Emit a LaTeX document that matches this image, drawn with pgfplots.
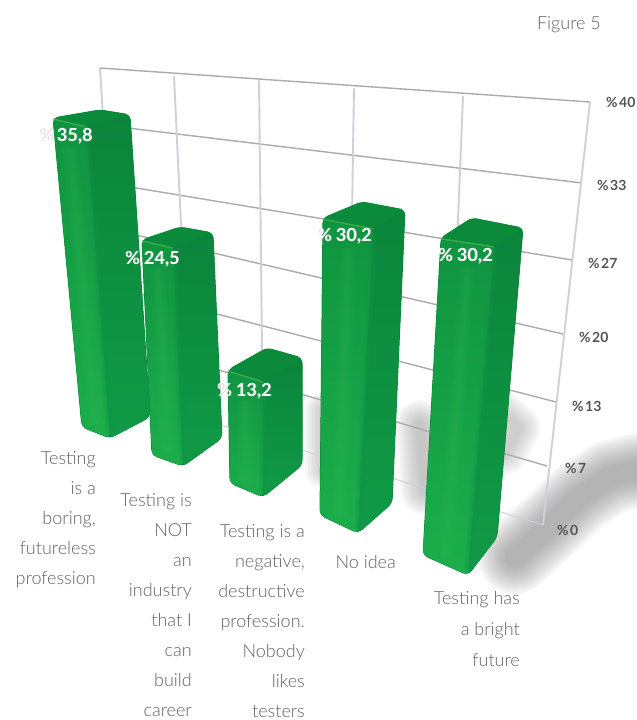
\documentclass[border=0pt]{standalone}
\usepackage{fontspec}
\usepackage{pgfplots}
\usepackage{pgfplotstable}
\pgfplotsset{compat=1.18}
\setmainfont{Lato}
\newfontfamily\thinfont{Lato Light}
\newfontfamily\boldfont{Lato}[UprightFont=*-Bold]

\definecolor{wallh}{HTML}{ABABAB}
\definecolor{wallv}{HTML}{D0D0DA}
\definecolor{caption}{HTML}{626262}
\definecolor{ticktext}{HTML}{555555}
\definecolor{leftTop}{HTML}{0F9440}
\definecolor{leftBot}{HTML}{1CAE4B}
\definecolor{rightTop}{HTML}{0B853B}
\definecolor{rightBot}{HTML}{109A46}
\definecolor{topFace}{HTML}{0C8A3C}
\definecolor{rim}{HTML}{5CC04E}
\definecolor{sheen}{HTML}{3CC05A}
\definecolor{ridge}{HTML}{12934A}
\definecolor{shadowgray}{HTML}{808080}

% one bar per row: the value, then for the left, front, right and back corners
% the floor position and the rise per percentage point
\pgfplotstableread{
val  lx  ly  lux   luy    fx  fy  fux   fuy    rx  ry  rux   ruy    bx  by  bux   buy
35.8 82  427 -0.81 -8.63  110 438 -0.67 -8.72  150 417 -0.56 -8.44  122 406 -0.61 -8.27
24.5 152 455 -0.41 -8.78  183 466 -0.41 -8.94  222 438 -0.37 -8.37  191 427 -0.45 -8.16
13.2 230 483 -0.15 -8.56  263 497 0.00  -8.79  302 465 0.00  -8.11  269 451 -0.15 -7.80
30.2 320 515 0.10  -9.83  358 533 0.50  -10.10 392 503 0.43  -9.70  354 490 0.26  -9.54
30.2 423 555 0.60  -10.50 468 575 0.86  -10.90 497 537 0.86  -10.23 452 517 0.66  -9.90
}\bars

\newcommand\poly[2]{\edef\temp{\noexpand\addplot[#1] coordinates {#2} --cycle;}\temp}
\newcommand\stroke[2]{\edef\temp{\noexpand\addplot[#1] coordinates {#2};}\temp}

% soft shadow: a band stacked from translucent strokes, narrowing towards its spine
% arguments: opacity of a stroke, widest stroke, narrowest stroke, spine
\newcommand\softband[4]{%
  \pgfplotsforeachungrouped \layer in {0,1,...,11}{%
    \pgfmathsetmacro\bandw{#3+(#2-#3)*\layer/11}%
    \stroke{shadowgray,line width=\bandw pt,opacity=#1,line join=round,line cap=round}{#4}}}

\newcommand\getcols[1]{%
  \pgfplotsforeachungrouped \colname in {val,lx,ly,lux,luy,fx,fy,fux,fuy,rx,ry,rux,ruy,bx,by,bux,buy}{%
    \pgfplotstablegetelem{#1}{\colname}\of\bars
    \expandafter\let\csname c\colname\endcsname\pgfplotsretval}}

\newcommand\drawbar[1]{%
  \getcols{#1}%
  \pgfmathsetmacro\Ltx{\clx+\clux*\cval}\pgfmathsetmacro\Lty{\cly+\cluy*\cval}%
  \pgfmathsetmacro\Ftx{\cfx+\cfux*\cval}\pgfmathsetmacro\Fty{\cfy+\cfuy*\cval}%
  \pgfmathsetmacro\Rtx{\crx+\crux*\cval}\pgfmathsetmacro\Rty{\cry+\cruy*\cval}%
  \pgfmathsetmacro\Btx{\cbx+\cbux*\cval}\pgfmathsetmacro\Bty{\cby+\cbuy*\cval}%
  \pgfmathsetmacro\Mbx{.5*\clx+.5*\cfx}\pgfmathsetmacro\Mby{.5*\cly+.5*\cfy-8}%
  \pgfmathsetmacro\Mtx{.5*\Ltx+.5*\Ftx}\pgfmathsetmacro\Mty{.5*\Lty+.5*\Fty+25}%
  \pgfmathsetmacro\Rbx{\cfx}\pgfmathsetmacro\Rby{\cfy-4}%
  \pgfmathsetmacro\Rqx{\Ftx}\pgfmathsetmacro\Rqy{\Fty+3}%
  \pgfmathsetmacro\Lipy{\Lty+1}\pgfmathsetmacro\Fipy{\Fty+1}%
  \poly{draw=rightTop,fill=rightTop,line width=1pt,rounded corners=5pt}
       {(\clx,\cly)(\cfx,\cfy)(\crx,\cry)(\Rtx,\Rty)(\Btx,\Bty)(\Ltx,\Lty)}%
  \poly{draw=none,top color=rightTop,bottom color=rightBot,rounded corners=4pt}
       {(\cfx,\cfy)(\crx,\cry)(\Rtx,\Rty)(\Ftx,\Fty)}%
  \poly{draw=none,top color=leftTop,bottom color=leftBot,rounded corners=4pt}
       {(\clx,\cly)(\cfx,\cfy)(\Ftx,\Fty)(\Ltx,\Lty)}%
  % sheen down the lit face and a softened edge between the two faces
  \stroke{sheen,line width=16pt,opacity=.06}{(\Mbx,\Mby)(\Mtx,\Mty)}%
  \stroke{sheen,line width=11pt,opacity=.07}{(\Mbx,\Mby)(\Mtx,\Mty)}%
  \stroke{sheen,line width=5pt,opacity=.09}{(\Mbx,\Mby)(\Mtx,\Mty)}%
  \stroke{ridge,line width=8pt,opacity=.2}{(\Rbx,\Rby)(\Rqx,\Rqy)}%
  \stroke{ridge,line width=4pt,opacity=.3}{(\Rbx,\Rby)(\Rqx,\Rqy)}%
  \poly{draw=none,fill=topFace,rounded corners=4pt}
       {(\Ltx,\Lty)(\Ftx,\Fty)(\Rtx,\Rty)(\Btx,\Bty)}%
  \stroke{rim,line width=1.4pt,opacity=.55,line cap=round}{(\Ltx,\Lipy)(\Ftx,\Fipy)}%
}

\newcommand\levelline[2]{\addplot[wallh,line width=1.4pt] coordinates {#1#2};}
\newcommand\divider[2]{\addplot[wallv,line width=1.9pt] coordinates {#1#2};}
\newcommand\cat[3]{\node[anchor=base east,inner sep=0pt,text=caption,font=\thinfont\fontsize{18}{19}\selectfont] at (axis cs:#1,#2) {#3};}
\newcommand\ticklab[3]{\node[anchor=base west,inner sep=0pt,text=ticktext,font=\boldfont\fontsize{14}{15}\selectfont] at (axis cs:#1,#2) {\%\hspace{1.5pt}#3};}
\newcommand\valtext[3]{%
  \node[anchor=base west,inner sep=0pt,text=gray!60,opacity=.7,font=\boldfont\fontsize{18}{19}\selectfont] at (axis cs:#1+.7,#2+.7) {#3};
  \node[anchor=base west,inner sep=0pt,text=white,opacity=.95,font=\boldfont\fontsize{18}{19}\selectfont] at (axis cs:#1,#2) {#3};}

\begin{document}
\begin{tikzpicture}
\begin{axis}[
  scale only axis,width=637pt,height=720pt,
  xmin=0,xmax=637,ymin=0,ymax=720,y dir=reverse,
  hide axis,
]
\fill[white] (axis cs:0,0) rectangle (axis cs:637,720);

% shadows thrown to the right of the bars
\softband{.065}{74}{20}{(515,557)(545,530)(580,497)(610,477)(660,465)}
\softband{.035}{46}{8}{(495,408)(518,428)(505,452)}
\softband{.045}{50}{8}{(420,425)(425,490)}
\softband{.03}{36}{6}{(322,410)(322,470)}

% back wall: value lines, then the dividers between categories
\levelline{(100,68)}{(590,102)}
\levelline{(103,125)}{(582,183)}
\levelline{(106,183)}{(572,260)}
\levelline{(110,229)}{(563,334)}
\levelline{(113,287)}{(556,402)}
\levelline{(116,340)}{(547,466)}
\addplot[wallv,line width=1pt] coordinates {(118,393)(543,525)};
\divider{(100,68)}{(120,393)}
\divider{(174,76)}{(190,415)}
\divider{(259,80)}{(263,440)}
\divider{(354,88)}{(348,470)}
\divider{(463,96)}{(447,495)}
\divider{(590,102)}{(543,525)}

\drawbar{0}
\drawbar{1}
\drawbar{2}
\drawbar{3}
\drawbar{4}

\valtext{38}{141}{\%\hspace{4pt}35,8}
\valtext{125}{264}{\%\hspace{4pt}24,5}
\valtext{217}{396}{\%\hspace{4pt}13,2}
\valtext{317}{241}{\%\hspace{4pt}30,2}
\valtext{438}{261}{\%\hspace{4pt}30,2}

\ticklab{606}{107}{40}
\ticklab{597}{190}{33}
\ticklab{588}{268}{27}
\ticklab{579}{342}{20}
\ticklab{572}{411}{13}
\ticklab{565}{473}{7}
\ticklab{557}{535}{0}

\cat{601}{29}{Figure 5}

\cat{96}{464}{Testing}
\cat{96}{494}{is a}
\cat{96}{524}{boring,}
\cat{96}{554}{futureless}
\cat{96}{584}{profession}

\cat{192}{506}{Testing is}
\cat{192}{536}{NOT}
\cat{192}{566}{an}
\cat{192}{596}{industry}
\cat{192}{626}{that I}
\cat{192}{656}{can}
\cat{192}{686}{build}
\cat{192}{716}{career}

\cat{305}{537}{Testing is a}
\cat{305}{567}{negative,}
\cat{305}{597}{destructive}
\cat{305}{627}{profession.}
\cat{305}{657}{Nobody}
\cat{305}{687}{likes}
\cat{305}{717}{testers}

\cat{396}{568}{No idea}

\cat{520}{604}{Testing has}
\cat{520}{635}{a bright}
\cat{520}{666}{future}
\end{axis}
\end{tikzpicture}
\end{document}
